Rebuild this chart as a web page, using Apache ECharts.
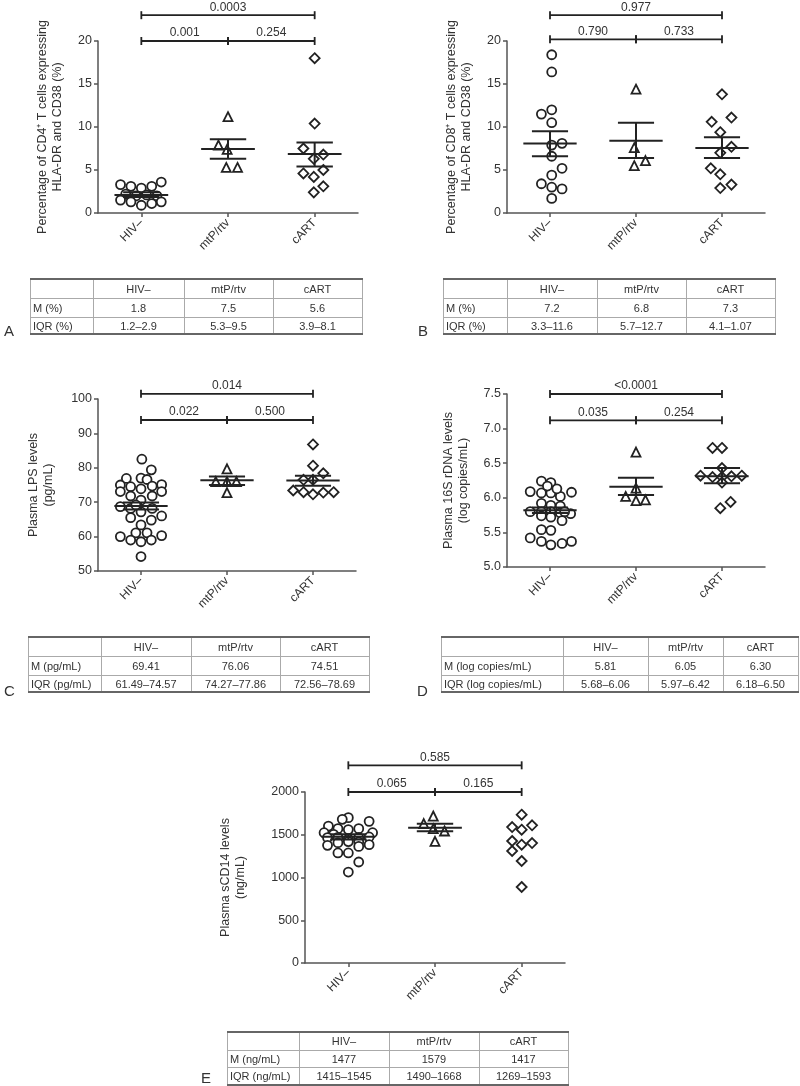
<!DOCTYPE html>
<html><head><meta charset="utf-8">
<script src="https://cdn.jsdelivr.net/npm/echarts@6/dist/echarts.min.js"></script>
<style>
html,body{margin:0;padding:0;background:#fff;}
#chart{position:absolute;left:0;top:0;width:800px;height:1086px;}
.tbl{position:absolute;font-family:'Liberation Sans',Arial,sans-serif;font-size:11px;color:#333;}
.cell{position:absolute;box-sizing:border-box;display:flex;align-items:center;justify-content:center;white-space:nowrap;}
.cell.first{justify-content:flex-start;padding-left:3px;}
.letter{position:absolute;font-family:'Liberation Sans',Arial,sans-serif;font-size:15px;color:#333;line-height:15px;}
</style></head>
<body>
<div id="chart"></div>
<script>
const categories = ['HIV–', 'mtP/rtv', 'cART'];

// ---------- Panel A: CD4+ HLA-DR+CD38+ (%) ----------
const aHiv = [3.3, 3.1, 2.9, 3.1, 3.6, 2.2, 2.0, 2.1, 2.0, 1.5, 1.3, 0.9, 1.1, 1.3];
const aHivJit = [-0.24, -0.12, 0, 0.12, 0.23, -0.18, -0.06, 0.06, 0.18, -0.24, -0.12, 0, 0.12, 0.23];
const aMtp = [11.2, 7.9, 7.4, 5.3, 5.3];
const aMtpJit = [0, -0.11, -0.01, -0.02, 0.11];
const aCart = [18.0, 10.4, 7.5, 6.3, 6.8, 4.6, 4.2, 5.0, 2.4, 3.1];
const aCartJit = [0, 0, -0.13, -0.01, 0.1, -0.13, -0.01, 0.1, -0.01, 0.1];
const aMeanSem = [[2.1, 1.85, 2.4], [7.44, 6.3, 8.57], [6.85, 5.4, 8.2]];
const aBrackets = [[0, 2, 23, '0.0003'], [0, 1, 20, '0.001'], [1, 2, 20, '0.254']];

// ---------- Panel B: CD8+ HLA-DR+CD38+ (%) ----------
const bHiv = [18.4, 16.4, 11.5, 12.0, 10.5, 7.9, 8.1, 6.6, 3.4, 4.4, 5.2, 3.0, 2.8, 1.7];
const bHivJit = [0.02, 0.02, -0.1, 0.02, 0.02, 0.02, 0.14, 0.02, -0.1, 0.02, 0.14, 0.02, 0.14, 0.02];
const bMtp = [14.4, 7.6, 5.5, 6.1];
const bMtpJit = [0, -0.02, -0.02, 0.11];
const bCart = [13.8, 10.6, 11.1, 9.4, 7.7, 7.0, 5.2, 4.5, 2.9, 3.3];
const bCartJit = [0, -0.12, 0.11, -0.02, 0.11, -0.02, -0.13, -0.02, -0.02, 0.11];
const bMeanSem = [[8.08, 6.6, 9.5], [8.4, 6.4, 10.5], [7.57, 6.4, 8.8]];
const bBrackets = [[0, 2, 23, '0.977'], [0, 1, 20.2, '0.790'], [1, 2, 20.2, '0.733']];

// ---------- Panel C: Plasma LPS (pg/mL) ----------
const cHiv = [82.5, 79.4, 76.9, 77.0, 76.6, 75.0, 74.5, 73.9, 74.7, 75.1, 73.1, 71.8, 70.6, 71.8, 73.1,
  68.7, 68.2, 67.2, 68.2, 69.2, 65.5, 64.8, 66.0, 63.4, 61.1, 61.1, 60.0, 59.0, 58.5, 59.0, 60.3, 54.2];
const cHivJit = [0.01, 0.12, -0.17, 0, 0.07, -0.24, -0.12, 0, 0.13, 0.24, -0.24, -0.12, 0, 0.13, 0.24,
  -0.24, -0.12, 0, 0.13, -0.06, -0.12, 0.12, 0.24, 0, -0.06, 0.07, -0.24, -0.12, 0, 0.12, 0.24, 0];
const cMtp = [79.7, 76.0, 76.0, 76.0, 72.8];
const cMtpJit = [0, -0.13, 0, 0.11, 0];
const cCart = [86.8, 80.6, 78.4, 76.5, 76.5, 73.4, 72.9, 72.3, 72.8, 72.9];
const cCartJit = [0, 0, 0.12, -0.11, 0, -0.23, -0.11, 0, 0.12, 0.24];
const cMeanSem = [[68.9, 67.9, 69.9], [76.4, 75.0, 77.5], [76.3, 74.8, 77.7]];
const cBrackets = [[0, 2, 101.5, '0.014'], [0, 1, 93.9, '0.022'], [1, 2, 93.9, '0.500']];

// ---------- Panel D: Plasma 16S rDNA (log copies/mL) ----------
const dHiv = [6.24, 6.22, 6.09, 6.07, 6.07, 6.02, 6.17, 6.13, 6.08, 5.92, 5.89, 5.88, 5.80, 5.80, 5.80,
  5.78, 5.77, 5.80, 5.74, 5.72, 5.67, 5.54, 5.53, 5.42, 5.37, 5.32, 5.34, 5.37];
const dHivJit = [-0.1, 0.01, -0.23, -0.1, 0.01, 0.12, -0.03, 0.08, 0.25, -0.1, 0.01, 0.12, -0.23, -0.1, 0.01,
  0.12, 0.24, 0.17, -0.1, 0.01, 0.14, -0.1, 0.01, -0.23, -0.1, 0.01, 0.14, 0.25];
const dMtp = [6.66, 6.14, 6.02, 5.96, 5.97];
const dMtpJit = [0, 0, -0.12, 0, 0.11];
const dCart = [6.72, 6.72, 6.43, 6.32, 6.30, 6.30, 6.31, 6.32, 6.22, 5.85, 5.94];
const dCartJit = [-0.11, 0, 0, -0.25, -0.11, 0, 0.11, 0.23, 0, -0.02, 0.1];
const dMeanSem = [[5.82, 5.78, 5.86], [6.16, 6.04, 6.29], [6.31, 6.21, 6.43]];
const dBrackets = [[0, 2, 7.5, '<0.0001'], [0, 1, 7.12, '0.035'], [1, 2, 7.12, '0.254']];

// ---------- Panel E: Plasma sCD14 (ng/mL) ----------
const eHiv = [1700, 1680, 1657, 1602, 1571, 1560, 1571, 1524, 1524, 1505, 1466, 1470, 1450, 1466, 1474,
  1407, 1415, 1376, 1384, 1364, 1420, 1287, 1287, 1181, 1064];
const eHivJit = [0, -0.07, 0.24, -0.23, -0.12, 0, 0.12, -0.28, 0.28, -0.17, -0.24, -0.12, 0, 0.12, 0.24,
  -0.12, 0.12, -0.24, 0.24, 0.12, 0, -0.12, 0, 0.12, 0];
const eMtp = [1719, 1630, 1571, 1544, 1423];
const eMtpJit = [-0.02, -0.13, -0.02, 0.11, 0];
const eCart = [1735, 1590, 1559, 1610, 1427, 1384, 1403, 1310, 1193, 889];
const eCartJit = [0, -0.11, 0, 0.12, -0.11, 0, 0.12, -0.11, 0, 0];
const eMeanSem = [[1477, 1445, 1505], [1583, 1540, 1630]];
const eBrackets = [[0, 2, 2312, '0.585'], [0, 1, 2000, '0.065'], [1, 2, 2000, '0.165']];

// ---------- Tables ----------
const tableHeader = ['', 'HIV–', 'mtP/rtv', 'cART'];
const tableA = [['M (%)', '1.8', '7.5', '5.6'], ['IQR (%)', '1.2–2.9', '5.3–9.5', '3.9–8.1']];
const tableB = [['M (%)', '7.2', '6.8', '7.3'], ['IQR (%)', '3.3–11.6', '5.7–12.7', '4.1–1.07']];
const tableC = [['M (pg/mL)', '69.41', '76.06', '74.51'], ['IQR (pg/mL)', '61.49–74.57', '74.27–77.86', '72.56–78.69']];
const tableD = [['M (log copies/mL)', '5.81', '6.05', '6.30'], ['IQR (log copies/mL)', '5.68–6.06', '5.97–6.42', '6.18–6.50']];
const tableE = [['M (ng/mL)', '1477', '1579', '1417'], ['IQR (ng/mL)', '1415–1545', '1490–1668', '1269–1593']];

const FONT = "'Liberation Sans', Arial, sans-serif";
const INK = '#222';
const TXT = '#333';

const panels = [
  { grid: { left: 98, top: 41, width: 260, height: 172 }, y: [0, 20, 5, 0], gap: 33,
    name: 'Percentage of CD4⁺ T cells expressing\nHLA-DR and CD38 (%)',
    groups: [[aHiv, aHivJit, 'circle'], [aMtp, aMtpJit, 'triangle'], [aCart, aCartJit, 'diamond']],
    means: aMeanSem, brackets: aBrackets },
  { grid: { left: 507, top: 41, width: 258, height: 172 }, y: [0, 20, 5, 0], gap: 33,
    name: 'Percentage of CD8⁺ T cells expressing\nHLA-DR and CD38 (%)',
    groups: [[bHiv, bHivJit, 'circle'], [bMtp, bMtpJit, 'triangle'], [bCart, bCartJit, 'diamond']],
    means: bMeanSem, brackets: bBrackets },
  { grid: { left: 98, top: 399, width: 258, height: 172 }, y: [50, 100, 10, 0], gap: 42,
    name: 'Plasma LPS levels\n(pg/mL)',
    groups: [[cHiv, cHivJit, 'circle'], [cMtp, cMtpJit, 'triangle'], [cCart, cCartJit, 'diamond']],
    means: cMeanSem, brackets: cBrackets },
  { grid: { left: 507, top: 394, width: 258, height: 173 }, y: [5, 7.5, 0.5, 1], gap: 36,
    name: 'Plasma 16S rDNA levels\n(log copies/mL)',
    groups: [[dHiv, dHivJit, 'circle'], [dMtp, dMtpJit, 'triangle'], [dCart, dCartJit, 'diamond']],
    means: dMeanSem, brackets: dBrackets },
  { grid: { left: 305, top: 792, width: 260, height: 171 }, y: [0, 2000, 500, 0], gap: 57,
    name: 'Plasma sCD14 levels\n(ng/mL)',
    groups: [[eHiv, eHivJit, 'circle'], [eMtp, eMtpJit, 'triangle'], [eCart, eCartJit, 'diamond']],
    means: eMeanSem, brackets: eBrackets }
];

const grids = [], xAxes = [], yAxes = [], series = [];
const axisLine = { show: true, onZero: false, lineStyle: { color: '#555', width: 1.5 } };

panels.forEach((p, i) => {
  grids.push(p.grid);
  xAxes.push({ type: 'category', gridIndex: i, data: categories, position: 'bottom',
    axisLine: axisLine, axisTick: { show: true, alignWithLabel: true, length: 4, lineStyle: { color: '#555', width: 1.5 } },
    axisLabel: { rotate: 45, margin: 8, fontSize: 12, color: TXT, fontFamily: FONT },
    splitLine: { show: false } });
  xAxes.push({ type: 'value', gridIndex: i, min: -0.5, max: 2.5, show: false, axisLine: { onZero: false } });
  const dec = p.y[3];
  yAxes.push({ type: 'value', gridIndex: i, min: p.y[0], max: p.y[1], interval: p.y[2], position: 'left',
    axisLine: axisLine, axisTick: { show: true, length: 4, lineStyle: { color: '#555', width: 1.5 } },
    axisLabel: { fontSize: 12.5, color: TXT, fontFamily: FONT, margin: 6,
      formatter: v => dec ? v.toFixed(dec) : String(v) },
    splitLine: { show: false },
    name: p.name, nameLocation: 'middle', nameGap: p.gap,
    nameTextStyle: { fontSize: 12.5, color: TXT, fontFamily: FONT, lineHeight: 15 } });

  p.groups.forEach((g, gi) => {
    const vals = g[0], jit = g[1];
    series.push({ type: 'scatter', xAxisIndex: 2 * i + 1, yAxisIndex: i, z: 2,
      symbol: g[2], symbolSize: g[2] === 'triangle' ? 9 : (g[2] === 'diamond' ? 10 : 9),
      itemStyle: { color: '#fff', borderColor: INK, borderWidth: 1.8, opacity: 1 },
      data: vals.map((v, k) => [gi + jit[k], v]), silent: true });
  });

  series.push({ type: 'custom', xAxisIndex: 2 * i + 1, yAxisIndex: i, z: 3, silent: true,
    data: p.means.map((m, gi) => [gi, m[0], m[1], m[2]]),
    renderItem: (params, api) => {
      const x = api.value(0);
      const c = api.coord([x, api.value(1)]);
      const lo = api.coord([x, api.value(2)]);
      const hi = api.coord([x, api.value(3)]);
      const band = api.size([1, 0])[0];
      const hw = band * 0.31, cw = band * 0.21;
      const st = { stroke: INK, lineWidth: 2 };
      return { type: 'group', children: [
        { type: 'line', shape: { x1: c[0] - hw, y1: c[1], x2: c[0] + hw, y2: c[1] }, style: st },
        { type: 'line', shape: { x1: lo[0], y1: lo[1], x2: hi[0], y2: hi[1] }, style: st },
        { type: 'line', shape: { x1: lo[0] - cw, y1: lo[1], x2: lo[0] + cw, y2: lo[1] }, style: st },
        { type: 'line', shape: { x1: hi[0] - cw, y1: hi[1], x2: hi[0] + cw, y2: hi[1] }, style: st }
      ] };
    } });

  const br = p.brackets;
  series.push({ type: 'custom', xAxisIndex: 2 * i + 1, yAxisIndex: i, z: 3, clip: false, silent: true,
    data: br.map(b => [b[0], b[2], b[1]]),
    renderItem: (params, api) => {
      const b = br[params.dataIndex];
      const p1 = api.coord([b[0], b[2]]);
      const p2 = api.coord([b[1], b[2]]);
      const st = { stroke: INK, lineWidth: 1.8 };
      const t = 4;
      return { type: 'group', children: [
        { type: 'line', shape: { x1: p1[0], y1: p1[1], x2: p2[0], y2: p2[1] }, style: st },
        { type: 'line', shape: { x1: p1[0], y1: p1[1] - t, x2: p1[0], y2: p1[1] + t }, style: st },
        { type: 'line', shape: { x1: p2[0], y1: p2[1] - t, x2: p2[0], y2: p2[1] + t }, style: st },
        { type: 'text', x: (p1[0] + p2[0]) / 2, y: p1[1] - 2,
          style: { text: b[3], align: 'center', verticalAlign: 'bottom', textAlign: 'center', textVerticalAlign: 'bottom',
            font: '12px ' + FONT, fill: TXT } }
      ] };
    } });
});

const chart = echarts.init(document.getElementById('chart'), null, { renderer: 'canvas' });
chart.setOption({
  animation: false,
  backgroundColor: '#fff',
  grid: grids, xAxis: xAxes, yAxis: yAxes, series: series
});

// ---------- Tables (HTML) ----------
function makeTable(cols, rows, header, body) {
  const wrap = document.createElement('div');
  wrap.className = 'tbl';
  const all = [header].concat(body);
  all.forEach((r, ri) => {
    r.forEach((txt, ci) => {
      const c = document.createElement('div');
      c.className = 'cell' + (ci === 0 ? ' first' : '');
      c.style.left = cols[ci] + 'px';
      c.style.top = rows[ri] + 'px';
      c.style.width = (cols[ci + 1] - cols[ci]) + 'px';
      c.style.height = (rows[ri + 1] - rows[ri]) + 'px';
      c.textContent = txt;
      wrap.appendChild(c);
    });
  });
  const L = cols[0], R = cols[cols.length - 1], T = rows[0], B = rows[rows.length - 1];
  function line(x, y, w, h, color) {
    const d = document.createElement('div');
    d.style.cssText = 'position:absolute;left:' + x + 'px;top:' + y + 'px;width:' + w + 'px;height:' + h + 'px;background:' + color;
    wrap.appendChild(d);
  }
  for (let k = 1; k < rows.length - 1; k++) line(L, rows[k], R - L, 1, '#aaa');
  for (let k = 0; k < cols.length; k++) line(cols[k], T, 1, B - T, '#aaa');
  line(L, T - 1, R - L + 1, 2, '#666');
  line(L, B - 1, R - L + 1, 2, '#666');
  document.body.appendChild(wrap);
}
makeTable([30, 93, 184, 273, 362], [279, 298, 317, 334], tableHeader, tableA);
makeTable([443, 507, 597, 686, 775], [279, 298, 317, 334], tableHeader, tableB);
makeTable([28, 101, 191, 280, 369], [637, 656, 675, 692], tableHeader, tableC);
makeTable([441, 563, 648, 723, 798], [637, 656, 675, 692], tableHeader, tableD);
makeTable([227, 299, 389, 479, 568], [1032, 1050, 1067, 1085], tableHeader, tableE);

const letters = [['A', 4, 323], ['B', 418, 323], ['C', 4, 683], ['D', 417, 683], ['E', 201, 1070]];
letters.forEach(l => {
  const d = document.createElement('div');
  d.className = 'letter';
  d.style.left = l[1] + 'px'; d.style.top = l[2] + 'px';
  d.textContent = l[0];
  document.body.appendChild(d);
});
</script>
</body></html>
